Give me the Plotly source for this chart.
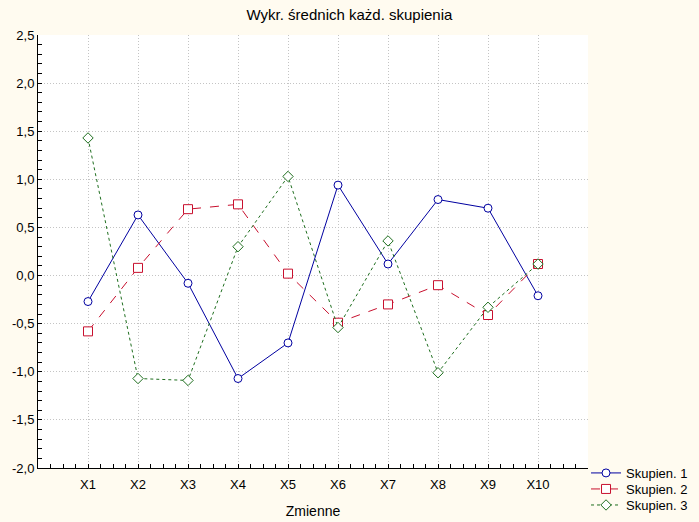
import plotly.graph_objects as go

categories = ["X1", "X2", "X3", "X4", "X5", "X6", "X7", "X8", "X9", "X10"]
skupien1 = [-0.27, 0.63, -0.08, -1.07, -0.70, 0.94, 0.12, 0.79, 0.70, -0.21]
skupien2 = [-0.58, 0.08, 0.69, 0.74, 0.02, -0.49, -0.30, -0.10, -0.41, 0.12]
skupien3 = [1.43, -1.07, -1.09, 0.30, 1.03, -0.54, 0.36, -1.01, -0.33, 0.12]
series_names = ["Skupien. 1", "Skupien. 2", "Skupien. 3"]
ytick_vals = [-2.0, -1.5, -1.0, -0.5, 0.0, 0.5, 1.0, 1.5, 2.0, 2.5]
ytick_text = ["-2,0", "-1,5", "-1,0", "-0,5", "0,0", "0,5", "1,0", "1,5", "2,0", "2,5"]

xpos = list(range(1, len(categories) + 1))
XR = [0, 11]
YR = [-2.0, 2.5]

styles = [
    dict(color="#0000A0", dash="solid", symbol="circle", size=8),
    dict(color="#C8102E", dash="dash", symbol="square", size=9),
    dict(color="#1E6E1E", dash="dot", symbol="diamond", size=8),
]
legend_ids = ["legend", "legend2", "legend3"]

fig = go.Figure()
for name, vals, st, lg in zip(series_names, [skupien1, skupien2, skupien3], styles, legend_ids):
    fig.add_trace(go.Scatter(
        x=xpos, y=vals, name=name, mode="lines+markers", legend=lg,
        line=dict(color=st["color"], width=1, dash=st["dash"]),
        marker=dict(symbol=st["symbol"], size=st["size"], color="white",
                    line=dict(color=st["color"], width=1)),
    ))

font = dict(family="Liberation Sans, Arial, sans-serif", size=13, color="black")
tickstyle = dict(ticks="inside", ticklen=4, tickcolor="black", tickwidth=1)
grid = dict(showgrid=True, gridcolor="#C4C4C4", griddash="1px,2px", gridwidth=1)

def legend_at(yc):
    return dict(x=0.9964, xanchor="left", y=yc, yanchor="middle",
                bgcolor="rgba(0,0,0,0)", font=dict(size=13), itemwidth=30)

fig.update_layout(
    width=699, height=522,
    margin=dict(l=38, r=111, t=35, b=54, autoexpand=False),
    paper_bgcolor="#FFFBF0",
    plot_bgcolor="white",
    font=font,
    title=dict(text="Wykr. średnich każd. skupienia", x=0.5, xanchor="center",
               y=1 - 15 / 522, yanchor="middle", font=dict(size=15)),
    showlegend=True,
    legend=legend_at(-0.0115),
    legend2=legend_at(-0.0485),
    legend3=legend_at(-0.0855),
    xaxis=dict(
        range=XR, tickvals=xpos, ticktext=categories, automargin=False,
        zeroline=False, showline=True, linecolor="black", linewidth=1,
        ticklabelstandoff=4,
        minor=dict(dtick=0.25, tick0=0, ticks="inside", ticklen=4,
                   tickcolor="black", showgrid=False),
        title=dict(text="Zmienne", standoff=15, font=dict(size=14)),
        **tickstyle, **grid,
    ),
    yaxis=dict(
        range=YR, tickvals=ytick_vals, ticktext=ytick_text, automargin=False,
        zeroline=False, showline=True, linecolor="black", linewidth=1,
        minor=dict(dtick=0.1, tick0=0, ticks="inside", ticklen=4,
                   tickcolor="black", showgrid=False),
        **tickstyle, **grid,
    ),
    xaxis2=dict(
        range=XR, overlaying="x", side="top", anchor="y", tickvals=xpos,
        showticklabels=False, showgrid=False, zeroline=False, automargin=False,
        showline=True, linecolor="black", linewidth=1,
        minor=dict(dtick=0.25, tick0=0, ticks="inside", ticklen=4,
                   tickcolor="black", showgrid=False),
        **tickstyle,
    ),
    yaxis2=dict(
        range=YR, overlaying="y", side="right", anchor="x", tickvals=ytick_vals,
        showticklabels=False, showgrid=False, zeroline=False, automargin=False,
        showline=True, linecolor="black", linewidth=1,
        minor=dict(dtick=0.1, tick0=0, ticks="inside", ticklen=4,
                   tickcolor="black", showgrid=False),
        **tickstyle,
    ),
)

fig.write_html("out.html", config={"displayModeBar": False},
               post_script="document.body.style.margin='0';")
